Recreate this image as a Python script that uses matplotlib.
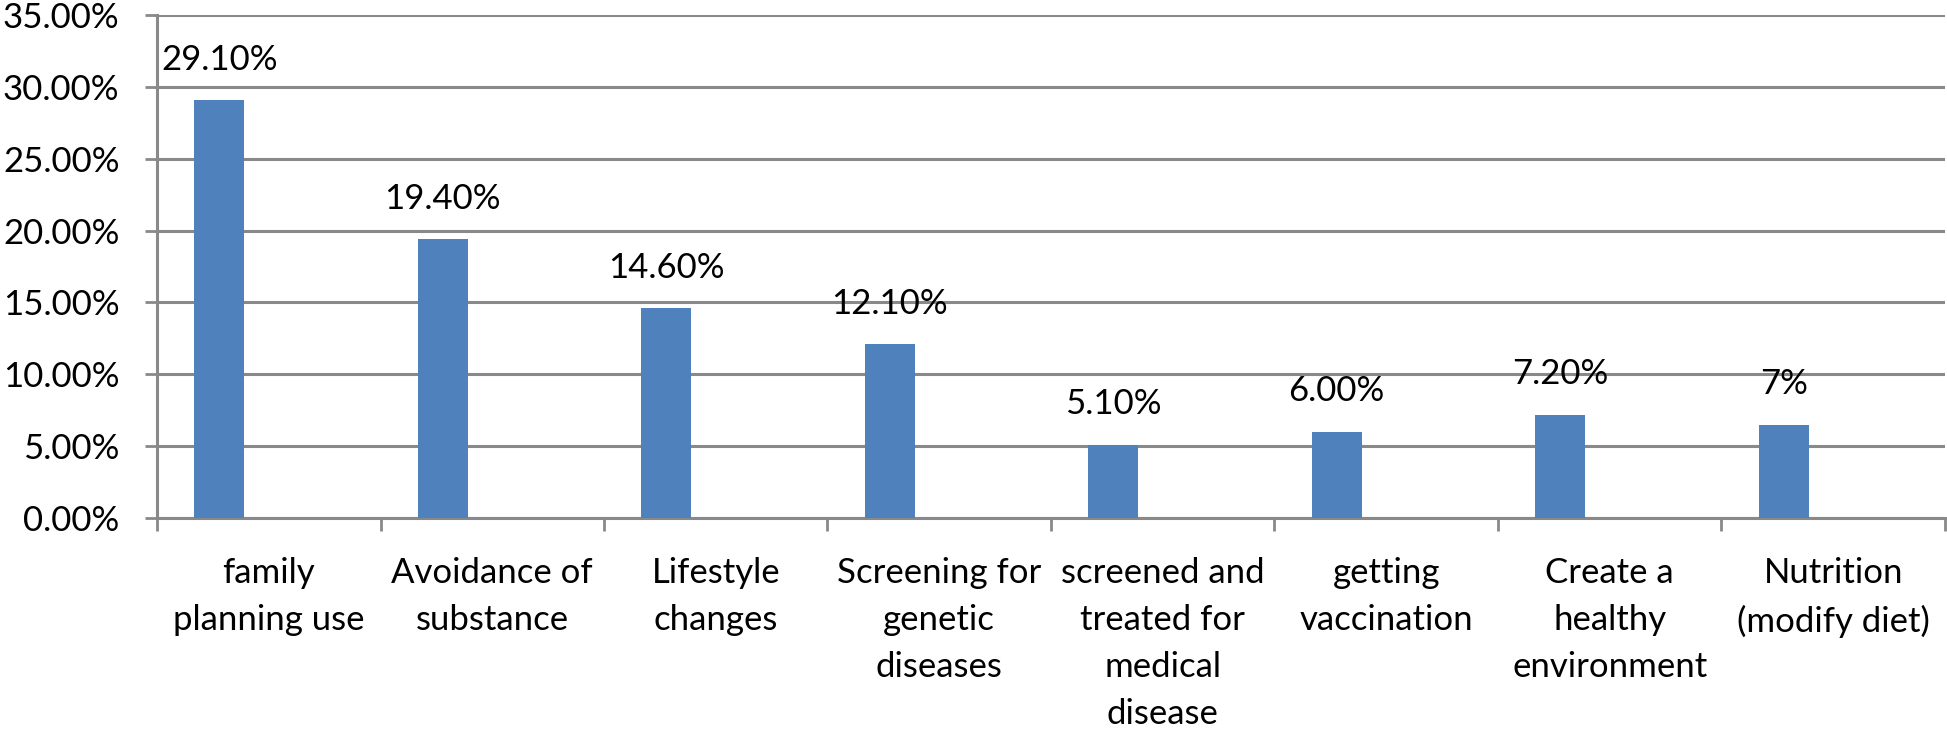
import numpy as np
import matplotlib.pyplot as plt
from matplotlib.ticker import FuncFormatter, FixedLocator

plt.rcParams['font.family'] = ['Lato', 'DejaVu Sans']

#### Data
categories = ['family\nplanning use', 'Avoidance of\nsubstance', 'Lifestyle\nchanges',
              'Screening for\ngenetic\ndiseases', 'screened and\ntreated for\nmedical\ndisease',
              'getting\nvaccination', 'Create a\nhealthy\nenvironment', 'Nutrition\n(modify diet)']
values = [29.1, 19.4, 14.6, 12.1, 5.1, 6.0, 7.2, 6.5]
value_labels = ['29.10%', '19.40%', '14.60%', '12.10%', '5.10%', '6.00%', '7.20%', '7%']

grey = '#898989'
blue = '#4F81BD'

fig = plt.figure(figsize=(19.47, 7.31), dpi=100)
ax = fig.add_axes([157/1947, 1 - 518/731, 1788/1947, 503/731])

x = np.arange(len(categories))
bars = ax.bar(x + 0.166, values, width=0.224, align='edge', color=blue, zorder=3)

# data labels above bars
for b, lab in zip(bars, value_labels):
    ax.annotate(lab, (b.get_x() + b.get_width()/2, b.get_height()),
                xytext=(0, 29), textcoords='offset points',
                ha='center', va='center', fontsize=25, zorder=4)

## Axes
ax.set_xlim(0, len(categories))
ax.set_ylim(0, 35)
ax.yaxis.set_major_locator(FixedLocator(np.arange(0, 35.1, 5)))
ax.yaxis.set_major_formatter(FuncFormatter(lambda v, p: '%.2f%%' % v))
ax.grid(axis='y', color=grey, linewidth=2.2, zorder=1)

ax.xaxis.set_major_locator(FixedLocator(np.arange(0, len(categories) + 1)))
ax.xaxis.set_major_formatter(FuncFormatter(lambda v, p: ''))
ax.xaxis.set_minor_locator(FixedLocator(x + 0.5))
ax.set_xticklabels(categories, minor=True, fontsize=25, linespacing=1.58, va='top')

ax.tick_params(axis='y', direction='out', length=9, width=2, color=grey, labelsize=25, pad=18)
ax.tick_params(axis='x', which='major', direction='out', length=9, width=2, color=grey)
ax.tick_params(axis='x', which='minor', length=0, pad=28)

for s in ['top', 'right']:
    ax.spines[s].set_visible(False)
for s in ['left', 'bottom']:
    ax.spines[s].set_color(grey)
    ax.spines[s].set_linewidth(2.2)

#### Output
fig.savefig('out.png', dpi=100)
